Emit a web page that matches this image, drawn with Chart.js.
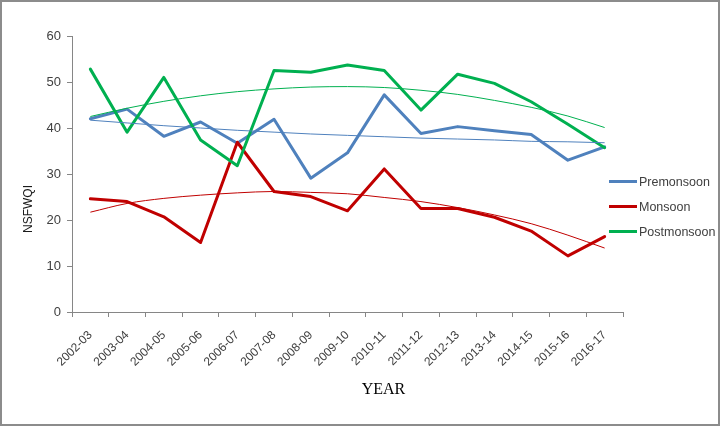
<!DOCTYPE html>
<html>
<head>
<meta charset="utf-8">
<script src="https://cdn.jsdelivr.net/npm/chart.js@4.4.0/dist/chart.umd.min.js"></script>
<style>
html,body{margin:0;padding:0;background:#fff;}
#wrap{position:relative;width:721px;height:427px;overflow:hidden;background:#fff;}
#c{position:absolute;left:0;top:0;}
#frame{position:absolute;left:0;top:0;width:720px;height:426px;box-sizing:border-box;border:2px solid #8c8c8c;pointer-events:none;}
.leg{position:absolute;left:609px;height:16px;line-height:16px;font-family:"Liberation Sans",Arial,sans-serif;font-size:12.5px;color:#404040;white-space:nowrap;}
.leg i{display:inline-block;width:28px;height:3px;vertical-align:middle;margin-right:2px;position:relative;top:-1px;}
</style>
</head>
<body>
<div id="wrap">
<canvas id="c" width="721" height="427"></canvas>
<div id="legend"></div>
<div id="frame"></div>
</div>
<script>
const categories = ['2002-03','2003-04','2004-05','2005-06','2006-07','2007-08','2008-09','2009-10','2010-11','2011-12','2012-13','2013-14','2014-15','2015-16','2016-17'];
const premonsoon  = [42.0,44.1,38.2,41.3,36.7,41.9,29.1,34.6,47.2,38.8,40.3,39.4,38.6,33.0,35.9];
const monsoon     = [24.6,24.0,20.7,15.1,36.9,26.2,25.1,22.0,31.1,22.5,22.5,20.6,17.6,12.2,16.4];
const postmonsoon = [52.8,39.1,51.0,37.4,31.8,52.5,52.1,53.7,52.5,43.9,51.7,49.7,45.7,40.8,35.7];
const premonsoonTrend  = [41.7,41.1,40.5,40.0,39.5,39.1,38.7,38.4,38.1,37.8,37.6,37.4,37.1,37.0,36.8];
const monsoonTrend     = [21.7,23.6,24.7,25.4,25.9,26.2,26.0,25.7,24.9,24.0,22.7,21.1,19.2,16.7,13.9];
const postmonsoonTrend = [42.5,44.3,45.8,47.0,47.9,48.5,48.9,49.0,48.8,48.2,47.3,46.0,44.5,42.6,40.1];
const yTicks = {min:0, max:60, step:10};
const seriesNames = ['Premonsoon','Monsoon','Postmonsoon'];
const seriesColors = ['#4F81BD','#C00000','#00B050'];

const mainSeries = [premonsoon, monsoon, postmonsoon];
const trendSeries = [premonsoonTrend, monsoonTrend, postmonsoonTrend];
const datasets = [];
mainSeries.forEach((d,i)=>{
  datasets.push({label:seriesNames[i], data:d, borderColor:seriesColors[i], backgroundColor:seriesColors[i],
    borderWidth:3, tension:0, order:3-i, borderJoinStyle:'round', borderCapStyle:'round'});
});
trendSeries.forEach((d,i)=>{
  datasets.push({label:seriesNames[i]+' trend', data:d, borderColor:seriesColors[i], backgroundColor:seriesColors[i],
    borderWidth:1, tension:0.4, cubicInterpolationMode:'monotone', order:0});
});

const sans = '"Liberation Sans", Arial, sans-serif';
new Chart(document.getElementById('c'), {
  type:'line',
  data:{labels:categories, datasets:datasets},
  options:{
    responsive:false,
    animation:false,
    layout:{padding:{top:36, right:98, bottom:0, left:0}},
    elements:{point:{radius:0, hoverRadius:0}},
    plugins:{legend:{display:false}, tooltip:{enabled:false}},
    scales:{
      x:{
        type:'category', offset:true,
        grid:{display:true, drawOnChartArea:false, drawTicks:true, tickLength:5, color:'#868686', offset:true},
        border:{display:true, color:'#868686', width:1},
        ticks:{autoSkip:false, maxRotation:45, minRotation:45, padding:11, color:'#404040', font:{family:sans, size:12}},
        title:{display:true, text:'                  YEAR', color:'#000', font:{family:'"Liberation Serif", "Times New Roman", serif', size:16}, padding:{top:0, bottom:28}},
        afterFit(s){ s.height = 115; }
      },
      y:{
        min:yTicks.min, max:yTicks.max,
        grid:{display:true, drawOnChartArea:false, drawTicks:true, tickLength:5, color:'#868686'},
        border:{display:true, color:'#868686', width:1},
        ticks:{stepSize:yTicks.step, padding:6, color:'#404040', font:{family:sans, size:13}},
        title:{display:true, text:'NSFWQI                     ', color:'#1a1a1a', font:{family:sans, size:12}, padding:{top:21, bottom:0}},
        afterFit(s){ s.width = 72; }
      }
    }
  }
});

const legendTops = [181.7, 206.7, 231.7];
const leg = document.getElementById('legend');
seriesNames.forEach((n,i)=>{
  const d = document.createElement('div');
  d.className = 'leg';
  d.style.top = (legendTops[i]-8)+'px';
  d.innerHTML = '<i style="background:'+seriesColors[i]+'"></i>' + n;
  leg.appendChild(d);
});
</script>
</body>
</html>
